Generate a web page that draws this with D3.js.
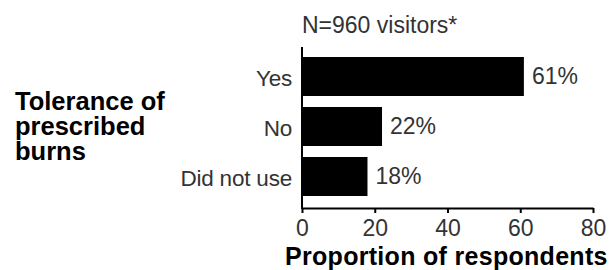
<!DOCTYPE html>
<html>
<head>
<meta charset="utf-8">
<script src="https://cdn.jsdelivr.net/npm/d3@7"></script>
<style>
  body { margin: 0; background: #fff; }
  text { font-family: "Liberation Sans", Arial, sans-serif; }
</style>
</head>
<body>
<svg id="chart" width="610" height="270"></svg>
<script>
var categories = ["Yes", "No", "Did not use"];
var values = [61, 22, 18];
var tickValues = [0, 20, 40, 60, 80];
var title = "N=960 visitors*";
var yTitle = ["Tolerance of", "prescribed", "burns"];
var xTitle = "Proportion of respondents";

var svg = d3.select("#chart");

var x = d3.scaleLinear().domain([0, 80]).range([302, 593]);
var y = d3.scaleBand().domain(categories)
    .range([51.5, 201.5])
    .paddingInner(0.22)
    .paddingOuter(0.11);

// bars
svg.selectAll("rect.bar")
    .data(values)
    .enter().append("rect")
    .attr("class", "bar")
    .attr("x", x(0))
    .attr("y", function(d, i) { return y(categories[i]); })
    .attr("width", function(d) { return x(d) - x(0); })
    .attr("height", y.bandwidth())
    .style("fill", "#000");

// value labels
svg.selectAll("text.val")
    .data(values)
    .enter().append("text")
    .attr("class", "val")
    .attr("x", function(d) { return x(d) + 8; })
    .attr("y", function(d, i) { return y(categories[i]) + y.bandwidth() / 2; })
    .attr("dy", "0.32em")
    .style("font-size", "23px")
    .style("fill", "#333")
    .text(function(d) { return d + "%"; });

// category labels
svg.selectAll("text.cat")
    .data(categories)
    .enter().append("text")
    .attr("class", "cat")
    .attr("x", x(0) - 10)
    .attr("y", function(d) { return y(d) + y.bandwidth() / 2; })
    .attr("dy", "0.43em")
    .attr("text-anchor", "end")
    .style("font-size", "22.5px")
    .style("letter-spacing", "-0.2px")
    .style("fill", "#333")
    .text(function(d) { return d; });

// x axis
var xAxis = svg.append("g")
    .attr("transform", "translate(0,208)")
    .call(d3.axisBottom(x).tickValues(tickValues).tickSize(5).tickSizeOuter(0).tickPadding(7));
xAxis.select(".domain").style("stroke", "#000").style("stroke-width", 2);
xAxis.selectAll(".tick line").style("stroke", "#000").style("stroke-width", 2);
xAxis.selectAll(".tick text")
    .style("font-family", "Liberation Sans, Arial, sans-serif")
    .style("font-size", "23px")
    .style("fill", "#333");

// y axis line
svg.append("line")
    .attr("x1", x(0)).attr("x2", x(0))
    .attr("y1", 47).attr("y2", 209)
    .style("stroke", "#000")
    .style("stroke-width", 2);

// title
svg.append("text")
    .attr("x", x(0))
    .attr("y", 33)
    .style("font-size", "23px")
    .style("fill", "#333")
    .text(title);

// x title
svg.append("text")
    .attr("x", 285)
    .attr("y", 265)
    .style("font-size", "25px")
    .style("font-weight", "bold")
    .style("letter-spacing", "0.3px")
    .style("fill", "#000")
    .text(xTitle);

// y title
svg.append("text")
    .attr("x", 15)
    .attr("y", 110)
    .style("font-size", "25.5px")
    .style("font-weight", "bold")
    .style("fill", "#000")
    .selectAll("tspan")
    .data(yTitle)
    .enter().append("tspan")
    .attr("x", 15)
    .attr("dy", function(d, i) { return i ? 25 : 0; })
    .text(function(d) { return d; });
</script>
</body>
</html>
